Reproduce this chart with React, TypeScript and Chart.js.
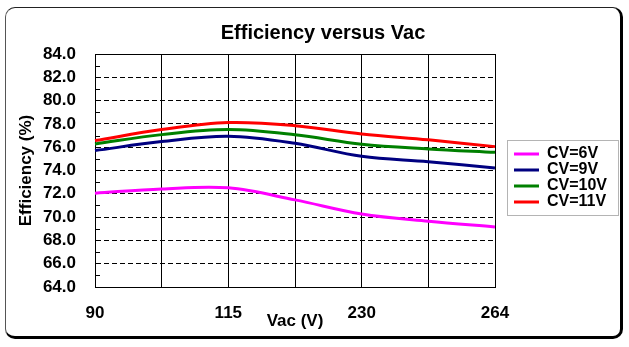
import React, { useEffect, useRef } from 'react';
import { Chart, registerables } from 'chart.js';

Chart.register(...registerables);

// ---- data ----
const categories = ['90', '', '115', '', '230', '', '264'];
const seriesNames = ['CV=6V', 'CV=9V', 'CV=10V', 'CV=11V'];
const cv6 = [72.05, 72.42, 72.51, 71.48, 70.27, 69.64, 69.15];
const cv9 = [75.71, 76.48, 76.94, 76.33, 75.22, 74.76, 74.22];
const cv10 = [76.28, 77.08, 77.51, 77.06, 76.25, 75.85, 75.56];
const cv11 = [76.57, 77.51, 78.11, 77.85, 77.14, 76.63, 76.05];
const seriesColors = ['#FF00FF', '#000080', '#008000', '#FF0000'];
const yMin = 64;
const yMax = 84;
const yStep = 2;

const FONT = "'Liberation Sans', Arial, sans-serif";

const framePlugin = {
  id: 'frame',
  afterUpdate(chart: any) {
    const lg = chart.legend;
    if (lg && lg.legendHitBoxes && lg.legendHitBoxes.length) {
      const hb = lg.legendHitBoxes;
      const dx = 514 - hb[0].left;
      const dy = 146 - hb[0].top;
      lg.left += dx;
      lg.right += dx;
      lg.top += dy;
      lg.bottom += dy;
      hb.forEach((h: any) => {
        h.left += dx;
        h.top += dy;
      });
    }
    const tb = chart.titleBlock;
    if (tb) {
      tb.left = 17;
      tb.right = 629;
      tb.width = 612;
    }
  },
  beforeDatasetsDraw(chart: any) {
    const { ctx, chartArea: a, scales } = chart;
    const y = scales.y;
    ctx.save();
    ctx.strokeStyle = '#000';
    ctx.lineWidth = 1;
    ctx.setLineDash([]);
    ctx.strokeRect(Math.round(a.left) + 0.5, Math.round(a.top) + 0.5, Math.round(a.right - a.left), Math.round(a.bottom - a.top));
    for (let v = yMin + yStep / 2; v < yMax; v += yStep) {
      const py = Math.round(y.getPixelForValue(v)) + 0.5;
      ctx.beginPath();
      ctx.moveTo(a.left, py);
      ctx.lineTo(a.left + 5, py);
      ctx.stroke();
    }
    ctx.restore();
  },
  afterDraw(chart: any) {
    const hb = chart.legend && chart.legend.legendHitBoxes;
    if (!hb || !hb.length) return;
    const { ctx } = chart;
    const l = Math.min(...hb.map((h: any) => h.left)) - 7;
    const r = Math.max(...hb.map((h: any) => h.left + h.width)) + 11;
    const t = hb[0].top - 6;
    const last = hb[hb.length - 1];
    const b = last.top + last.height + 5;
    ctx.save();
    ctx.strokeStyle = '#b4b4b4';
    ctx.lineWidth = 1;
    ctx.strokeRect(Math.round(l) + 0.5, Math.round(t) + 0.5, Math.round(r - l), Math.round(b - t));
    ctx.restore();
  },
};

export default function App() {
  const ref = useRef<HTMLCanvasElement | null>(null);

  useEffect(() => {
    if (!ref.current) return;
    const seriesValues = [cv6, cv9, cv10, cv11];
    const chart = new Chart(ref.current, {
      type: 'line',
      data: {
        labels: categories,
        datasets: seriesNames.map((name, i) => ({
          label: name,
          data: seriesValues[i],
          borderColor: seriesColors[i],
          backgroundColor: seriesColors[i],
          borderWidth: 3,
          pointRadius: 0,
          tension: 0.35,
          fill: false,
        })),
      },
      options: {
        responsive: false,
        animation: false,
        layout: { padding: { left: 16, right: 134, top: 21, bottom: 15 } },
        plugins: {
          title: {
            display: true,
            text: 'Efficiency versus Vac',
            color: '#000',
            font: { family: FONT, size: 20, weight: 'bold' },
            padding: { top: 0, bottom: 9 },
          },
          legend: {
            position: 'chartArea' as any,
            labels: {
              usePointStyle: true,
              pointStyle: 'line',
              pointStyleWidth: 25,
              padding: 0,
              color: '#000',
              font: { family: FONT, size: 16, weight: 'bold' },
            },
          },
          tooltip: { enabled: false },
        },
        scales: {
          x: {
            type: 'category',
            offset: false,
            grid: { color: '#000', lineWidth: 1, drawTicks: false },
            border: { color: '#000', width: 1 },
            ticks: {
              autoSkip: false,
              maxRotation: 0,
              padding: 16,
              color: '#000',
              font: { family: FONT, size: 17, weight: 'bold' },
            },
            title: {
              display: true,
              text: 'Vac (V)',
              color: '#000',
              font: { family: FONT, size: 17, weight: 'bold' },
              padding: { top: 0, bottom: 0 },
            },
            afterFit: (s: any) => {
              s.height = 45;
            },
          },
          y: {
            min: yMin,
            max: yMax,
            ticks: {
              stepSize: yStep,
              autoSkip: false,
              padding: 19,
              color: '#000',
              font: { family: FONT, size: 17, weight: 'bold' },
              callback: (v: any) => Number(v).toFixed(1),
            },
            grid: {
              color: (c: any) =>
                c.tick && (c.tick.value === yMin || c.tick.value === yMax) ? 'rgba(0,0,0,0)' : '#000',
              lineWidth: 1,
              drawTicks: false,
            },
            border: { color: '#000', width: 1, dash: [5, 3] },
            title: {
              display: true,
              text: 'Efficiency (%)',
              color: '#000',
              font: { family: FONT, size: 17, weight: 'bold' },
              padding: { top: 0, bottom: 0 },
            },
            afterFit: (s: any) => {
              s.width = 79;
            },
          },
        },
      },
      plugins: [framePlugin],
    });
    return () => chart.destroy();
  }, []);

  return (
    <div style={{ position: 'fixed', left: 0, top: 0, width: 629, height: 347, background: '#fff' }}>
      <div
        style={{
          position: 'absolute',
          left: 5,
          top: 7,
          width: 614,
          height: 328,
          borderStyle: 'solid',
          borderColor: '#000',
          borderLeftColor: '#555',
          borderTopColor: '#222',
          borderWidth: '1px 3px 3px 1px',
          borderRadius: 10,
        }}
      />
      <canvas
        ref={ref}
        width={629}
        height={347}
        style={{ position: 'absolute', left: 0, top: 0, width: 629, height: 347, display: 'block' }}
      />
    </div>
  );
}
